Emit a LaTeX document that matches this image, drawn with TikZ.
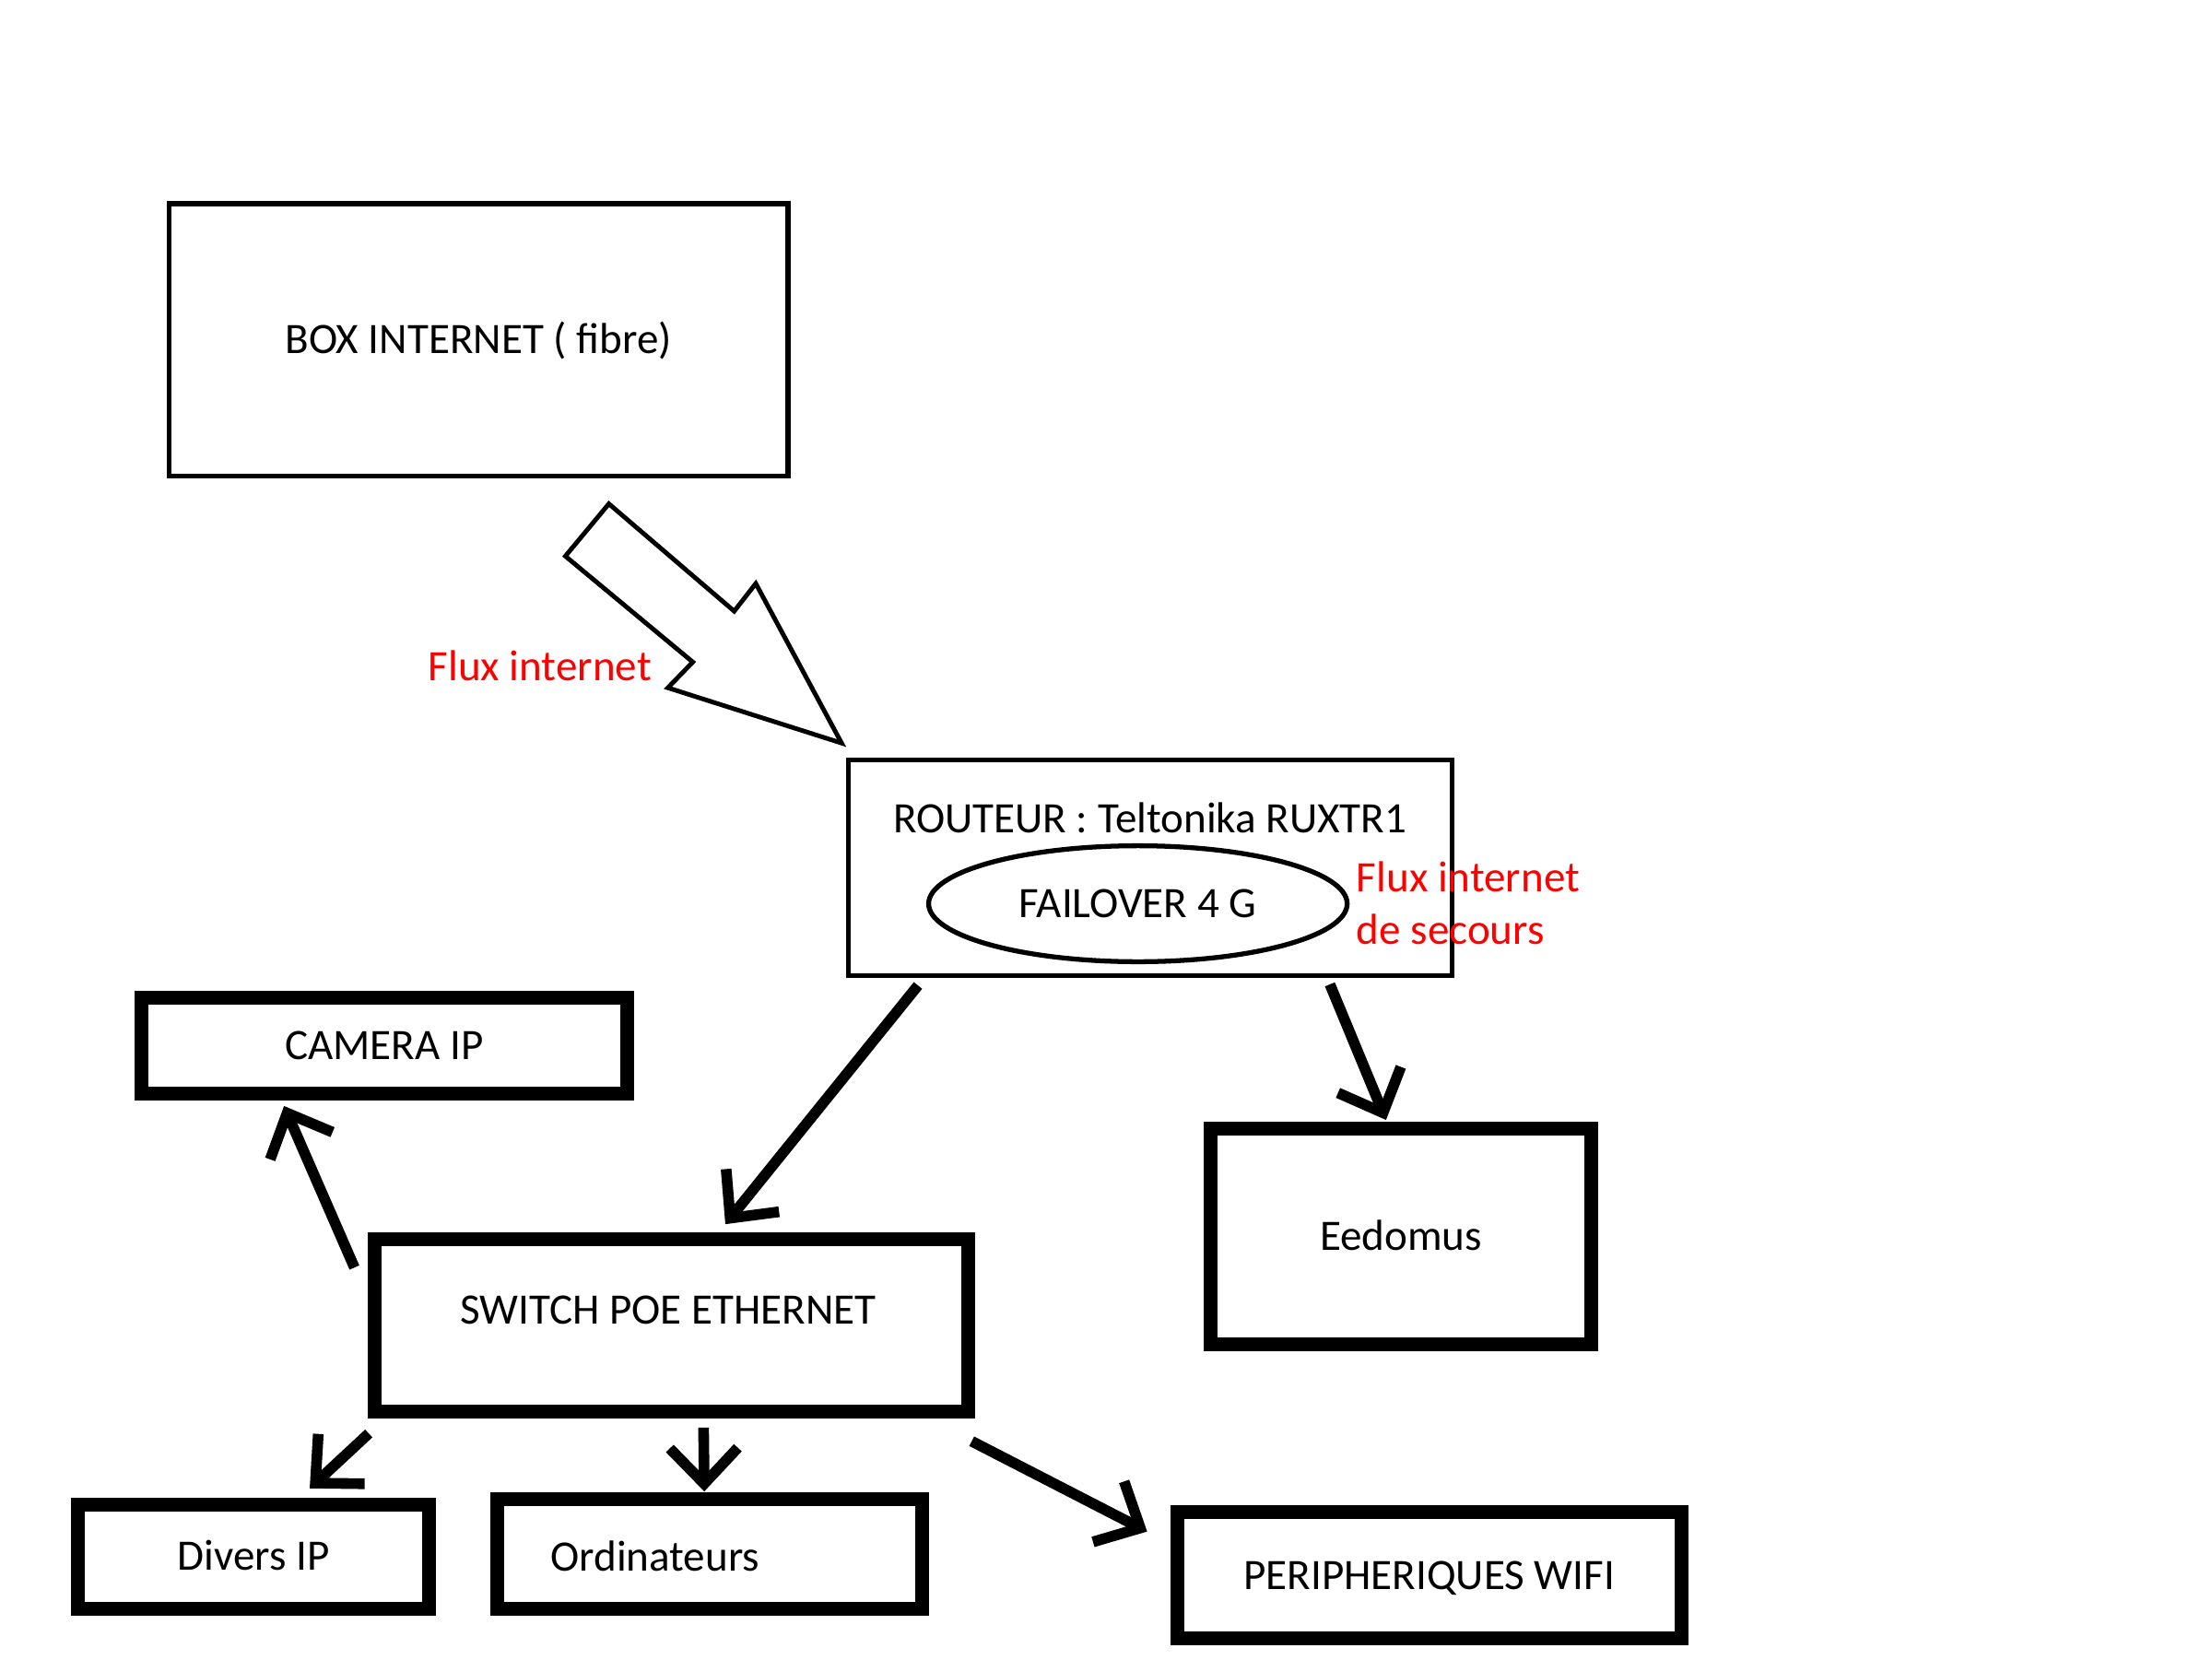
\documentclass[tikz,border=0pt]{standalone}
\usepackage{fontspec}
\setmainfont{Carlito}
\usetikzlibrary{arrows.meta,shapes.geometric}

\begin{document}
\begin{tikzpicture}[
    txt/.style={font=\fontsize{13.4}{16.2}\selectfont, text height=8.5pt, text depth=0pt},
    thinbox/.style={draw, rectangle, line width=1.5pt, txt},
    thickbox/.style={draw, rectangle, line width=4.25pt, txt},
    lbl/.style={txt, inner sep=0pt},
    redlbl/.style={font=\fontsize{13.4}{16.2}\selectfont, text=red, align=left, inner sep=0pt},
    flow/.style={line width=3.3pt, -{Straight Barb[length=11pt, width=21pt, line join=miter, line cap=butt]}}
]
    % Page frame
    \useasboundingbox (0,0) rectangle (24cm,18cm);

    % Box internet
    \node[thinbox, minimum width=6.716cm, minimum height=2.955cm] (boxnet) at (5.192cm, 14.312cm) {BOX INTERNET ( fibre)};

    % Hollow arrow to the router
    \draw[line width=1.4pt, line join=miter] (6.606,12.534) -- (6.134,11.966) -- (7.517,10.817) -- (7.246,10.538) -- (9.131,9.938) -- (8.2,11.669) -- (7.966,11.369) -- cycle;
    \node[redlbl, txt] (fluxnet) at (5.858cm, 10.769cm) {Flux internet};

    % Router with 4G failover
    \node[thinbox, minimum width=6.552cm, minimum height=2.347cm] (router) at (12.482cm, 8.585cm) {};
    \node[lbl] (routername) at (12.477cm, 9.117cm) {ROUTEUR : Teltonika RUXTR1};
    \node[draw, ellipse, line width=1.5pt, txt, inner sep=1pt, minimum width=4.541cm, minimum height=1.258cm] (failover) at (12.346cm, 8.195cm) {FAILOVER 4 G};
    \node[redlbl, anchor=west] (fluxsecours) at (14.712cm, 8.203cm) {Flux internet\\de secours};

    % Devices
    \node[thickbox, minimum width=5.266cm, minimum height=1.035cm] (camera) at (4.169cm, 6.654cm) {CAMERA IP};
    \node[thickbox, minimum width=6.435cm, minimum height=1.869cm] (switch) at (7.285cm, 3.622cm) {};
    \node[lbl] (switchname) at (7.251cm, 3.785cm) {SWITCH POE ETHERNET};
    \node[thickbox, minimum width=4.128cm, minimum height=2.334cm] (eedomus) at (15.2cm, 4.585cm) {Eedomus};
    \node[thickbox, minimum width=3.805cm, minimum height=1.137cm] (divers) at (2.752cm, 1.111cm) {Divers IP};
    \node[thickbox, minimum width=4.605cm, minimum height=1.191cm] (ordi) at (7.7cm, 1.138cm) {};
    \node[lbl, anchor=west] (ordiname) at (5.966cm, 1.100cm) {Ordinateurs};
    \node[thickbox, minimum width=5.468cm, minimum height=1.368cm] (wifi) at (15.508cm, 0.909cm) {PERIPHERIQUES WIFI};

    % Links
    \draw[flow, shorten <=2.8pt, shorten >=3.2pt] (router.206.4) -- (switch.63.2);
    \draw[flow, shorten <=2pt, shorten >=0.7pt] (router.328.8) -- (eedomus.97.9);
    \draw[flow, shorten <=10.5pt, shorten >=1.9pt] (switch.175.6) -- (camera.208.8);
    \draw[flow, shorten <=6.9pt, shorten >=4.1pt] (switch.198.1) -- (divers.52.6);
    \draw[flow, shorten <=2.9pt, shorten >=0.3pt] (switch.289.1) -- (ordi.95.6);
    \draw[flow, shorten <=15.5pt, shorten >=8.1pt] (switch.340.5) -- (wifi.173.8);
\end{tikzpicture}
\end{document}
